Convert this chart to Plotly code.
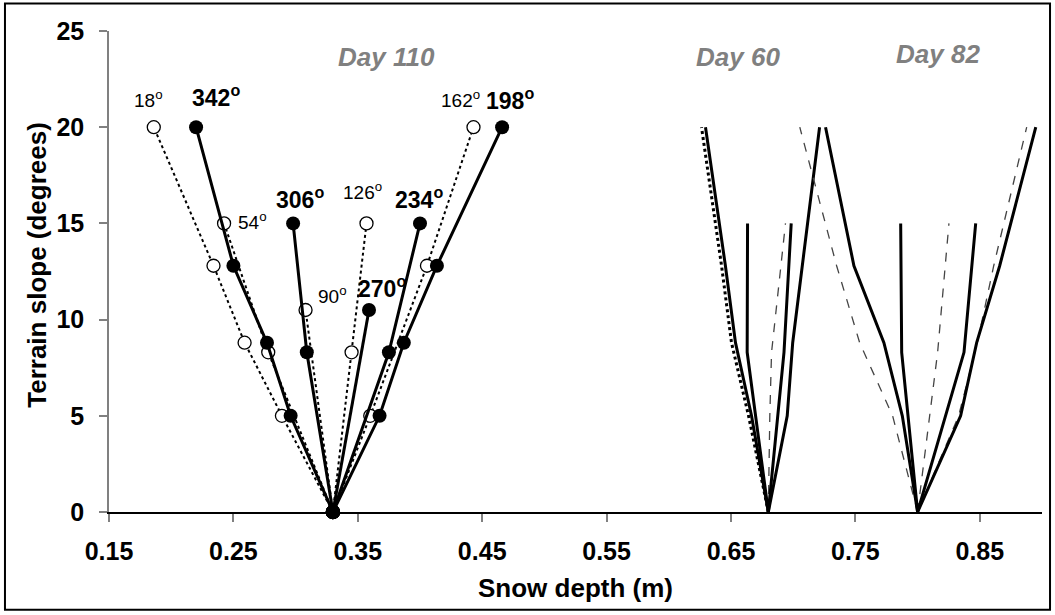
import plotly.graph_objects as go

# ---------------- data ----------------
x_tickvals = [0.15, 0.25, 0.35, 0.45, 0.55, 0.65, 0.75, 0.85]
x_ticktext = ["0.15", "0.25", "0.35", "0.45", "0.55", "0.65", "0.75", "0.85"]
y_tickvals = [0, 5, 10, 15, 20, 25]

# terrain slopes (degrees) sampled per aspect group
slope_a = [0, 5, 8.8, 12.8, 20]     # 18 / 342 / 198 / 162 deg
slope_b = [0, 8.3, 15]              # 54 / 306 / 234 / 126 deg
slope_c = [0, 10.5]                 # 90 / 270 deg
slope_162 = [0, 5, 12.8, 20]
slope_126_60 = [0, 5, 8.3, 15]

# Day 110 snow depth (m)
d110_342 = [0.330, 0.296, 0.277, 0.250, 0.220]
d110_306 = [0.330, 0.309, 0.298]
d110_270 = [0.330, 0.359]
d110_234 = [0.330, 0.375, 0.400]
d110_198 = [0.330, 0.3675, 0.387, 0.4136, 0.466]
d110_18 = [0.330, 0.289, 0.259, 0.234, 0.186]
d110_54 = [0.330, 0.278, 0.2425]
d110_90 = [0.330, 0.308]
d110_126 = [0.330, 0.345, 0.357]
d110_162 = [0.330, 0.360, 0.4056, 0.443]

# Day 60 snow depth (m)
d60_18 = [0.680, 0.6641, 0.6504, 0.6424, 0.6263]
d60_342 = [0.680, 0.6665, 0.6536, 0.6455, 0.6295]
d60_306 = [0.680, 0.6630, 0.6633]
d60_126 = [0.680, 0.6812, 0.6826, 0.6938]
d60_234 = [0.680, 0.6926, 0.6984]
d60_198 = [0.680, 0.6952, 0.6996, 0.7074, 0.7212]

# Day 82 snow depth (m)
d82_18 = [0.800, 0.7799, 0.7534, 0.7349, 0.7053]
d82_342 = [0.800, 0.7877, 0.7729, 0.7488, 0.7260]
d82_306 = [0.800, 0.7872, 0.7864]
d82_126 = [0.800, 0.8161, 0.8252]
d82_234 = [0.800, 0.8373, 0.8467]
d82_162 = [0.800, 0.833, 0.848, 0.8612, 0.8877]
d82_198 = [0.800, 0.8346, 0.8475, 0.866, 0.8950]

# aspect labels: (text, x, y, bold)
aspect_labels = [
    ("18", 0.1814, 21.44, False),
    ("342", 0.2361, 21.6, True),
    ("54", 0.2650, 15.15, False),
    ("306", 0.3037, 16.34, True),
    ("126", 0.3535, 16.66, False),
    ("234", 0.3994, 16.34, True),
    ("162", 0.4324, 21.44, False),
    ("198", 0.4726, 21.44, True),
    ("90", 0.3294, 11.3, False),
    ("270", 0.3696, 11.72, True),
]
day_labels = [("Day 110", 0.3728, 23.67), ("Day 60", 0.656, 23.67), ("Day 82", 0.816, 23.8)]

# ---------------- figure ----------------
FONT = "Arial, 'Liberation Sans', sans-serif"
fig = go.Figure()

open_style = dict(mode="lines+markers",
                  line=dict(color="black", width=2, dash="dot"),
                  marker=dict(symbol="circle", size=13, color="white",
                              line=dict(color="black", width=1.3)),
                  cliponaxis=False, showlegend=False, hoverinfo="skip")
filled_style = dict(mode="lines+markers",
                    line=dict(color="black", width=3),
                    marker=dict(symbol="circle", size=14, color="black"),
                    cliponaxis=False, showlegend=False, hoverinfo="skip")

for xs, ys in [(d110_18, slope_a), (d110_54, slope_b), (d110_90, slope_c),
               (d110_126, slope_b), (d110_162, slope_162)]:
    fig.add_trace(go.Scatter(x=xs, y=ys, **open_style))
for xs, ys in [(d110_342, slope_a), (d110_306, slope_b), (d110_270, slope_c),
               (d110_234, slope_b), (d110_198, slope_a)]:
    fig.add_trace(go.Scatter(x=xs, y=ys, **filled_style))

dash_thin = dict(color="#444444", width=1.3, dash="dash")
dot_thick = dict(color="black", width=3, dash="dot")
solid = dict(color="black", width=3)

later_lines = [
    (d60_18, slope_a, dot_thick), (d60_126, slope_126_60, dash_thin),
    (d60_342, slope_a, solid), (d60_306, slope_b, solid),
    (d60_234, slope_b, solid), (d60_198, slope_a, solid),
    (d82_18, slope_a, dash_thin), (d82_126, slope_b, dash_thin),
    (d82_162, slope_a, dash_thin),
    (d82_342, slope_a, solid), (d82_306, slope_b, solid),
    (d82_234, slope_b, solid), (d82_198, slope_a, solid),
]
for xs, ys, ln in later_lines:
    fig.add_trace(go.Scatter(x=xs, y=ys, mode="lines", line=ln, cliponaxis=False,
                             showlegend=False, hoverinfo="skip"))

for txt, x, y, bold in aspect_labels:
    t = f"{txt}<sup>o</sup>"
    fig.add_annotation(x=x, y=y, text=f"<b>{t}</b>" if bold else t, showarrow=False,
                       font=dict(family=FONT, size=23 if bold else 19, color="black"),
                       xanchor="center", yanchor="middle")
for txt, x, y in day_labels:
    fig.add_annotation(x=x, y=y, text=f"<b><i>{txt}</i></b>", showarrow=False,
                       font=dict(family=FONT, size=26, color="#808080"),
                       xanchor="center", yanchor="middle")

# axis titles
fig.add_annotation(xref="paper", yref="paper", x=0.5, y=-0.157,
                   text="<b>Snow depth (m)</b>", showarrow=False,
                   font=dict(family=FONT, size=26, color="black"),
                   xanchor="center", yanchor="middle")
fig.add_annotation(xref="paper", yref="paper", x=-0.0772, y=0.514,
                   text="<b>Terrain slope (degrees)</b>", showarrow=False, textangle=-90,
                   font=dict(family=FONT, size=26, color="black"),
                   xanchor="center", yanchor="middle")

# outer frame
fig.add_shape(type="rect", xref="paper", yref="paper",
              x0=-0.1115, x1=1.0086, y0=-0.2033, y1=1.0572,
              line=dict(color="black", width=2), fillcolor="rgba(0,0,0,0)", layer="below")

fig.update_xaxes(range=[0.15, 0.90], tickvals=x_tickvals, ticktext=x_ticktext,
                 showgrid=False, zeroline=False, showline=True, linecolor="black",
                 linewidth=1.5, ticks="outside", ticklen=8, tickcolor="#808080",
                 tickwidth=1.5, ticklabelstandoff=8,
                 tickfont=dict(family=FONT, size=25, color="black", weight="bold"))
fig.update_yaxes(range=[0, 25], tickvals=y_tickvals,
                 showgrid=False, zeroline=False, showline=True, linecolor="#808080",
                 linewidth=1.5, ticks="outside", ticklen=8, tickcolor="#808080",
                 tickwidth=1.5, ticklabelstandoff=10,
                 tickfont=dict(family=FONT, size=25, color="black", weight="bold"))

fig.update_layout(width=1055, height=615,
                  margin=dict(l=109, r=13, t=31, b=103),
                  paper_bgcolor="white", plot_bgcolor="white",
                  font=dict(family=FONT), showlegend=False)

fig.write_html("out.html", config={"displayModeBar": False})
